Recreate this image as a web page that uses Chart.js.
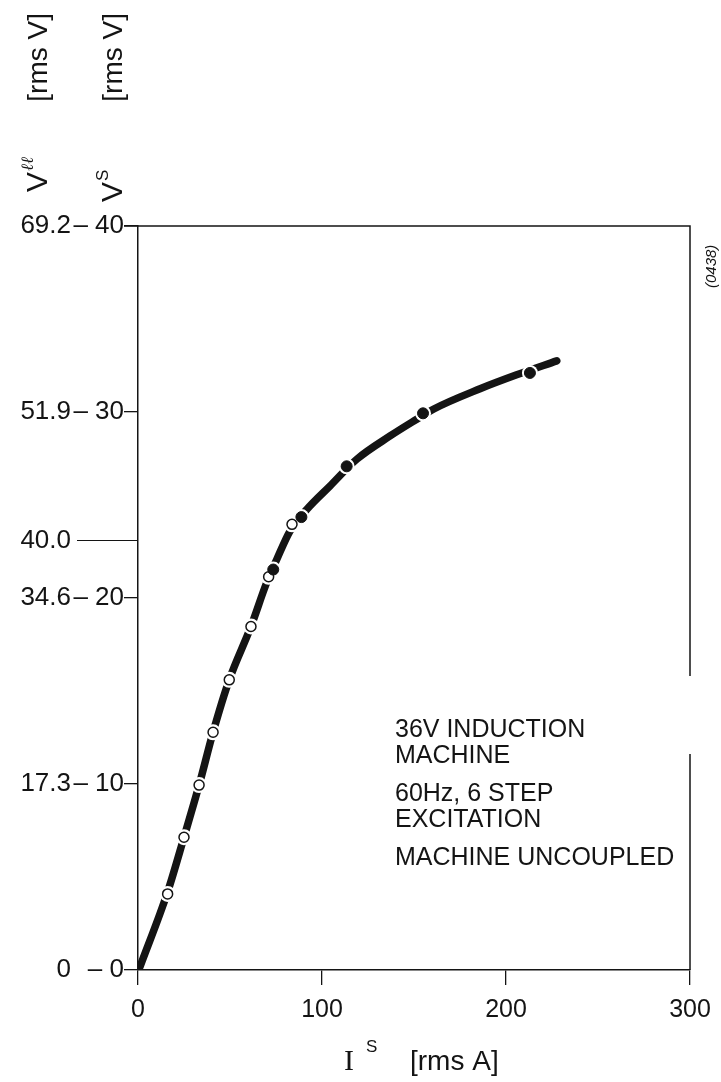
<!DOCTYPE html>
<html>
<head>
<meta charset="utf-8">
<script src="https://cdn.jsdelivr.net/npm/chart.js@4.4.0/dist/chart.umd.min.js"></script>
<style>
  html, body { margin: 0; padding: 0; background: #fff; }
  #wrap { width: 721px; height: 1082px; }
</style>
</head>
<body>
<div id="wrap"><canvas id="chart" width="721" height="1082"></canvas></div>
<script>
// traced curve: stator current I^S [rms A] vs phase voltage V^S [rms V]
const traceI = [1.1, 16.1, 25.0, 33.2, 40.8, 49.6, 61.4, 69.9, 75.4, 82.6, 91.7, 104.3, 118.9, 137.0, 151.5, 160.5, 185.9, 205.8, 227.6];
const traceV = [0.18, 4.2, 7.14, 9.94, 12.78, 15.6, 18.47, 20.82, 22.07, 23.6, 24.76, 26.02, 27.46, 28.71, 29.61, 30.15, 31.25, 32.0, 32.75];

// measured points, open circles
const openI = [16.1, 25.0, 33.2, 40.8, 49.6, 61.4, 71.0, 83.7];
const openV = [4.09, 7.14, 9.94, 12.78, 15.6, 18.47, 21.14, 23.96];

// measured points, filled circles
const fullI = [73.5, 88.8, 113.4, 154.9, 213.0];
const fullV = [21.53, 24.35, 27.08, 29.93, 32.1];

// axes
const xTicks = [0, 100, 200, 300];
const vsTicks = [0, 10, 20, 30, 40];
const vsLabels = ['\u2013 0', '\u2013 10', '\u2013 20', '\u2013 30', '\u2013 40'];
const vllMax = 69.282;   // 40 V phase = 69.28 V line-line
const vllTicks = [0, 17.32, 34.64, 40.0, 51.96, 69.282];
const vllLabels = ['0', '17.3', '34.6', '40.0', '51.9', '69.2'];

const noteLines = ['36V INDUCTION', 'MACHINE', '60Hz, 6 STEP', 'EXCITATION', 'MACHINE UNCOUPLED'];

const FONT = '"Liberation Sans", Arial, sans-serif';
const INK = '#141414';

function pts(xs, ys) {
    return xs.map((x, i) => ({ x: x, y: ys[i] }));
}

// frame, extra tick, axis titles and note
const decorPlugin = {
    id: 'decor',
    afterDraw(chart) {
        const ctx = chart.ctx;
        const a = chart.chartArea;
        const yll = chart.scales.yll;
        ctx.save();
        ctx.strokeStyle = INK;
        ctx.lineWidth = 1.5;

        // top and right frame (right side broken beside the note)
        ctx.beginPath();
        ctx.moveTo(a.left - 14, a.top);
        ctx.lineTo(a.right, a.top);
        ctx.lineTo(a.right, a.top + 450);
        ctx.moveTo(a.right, a.top + 528);
        ctx.lineTo(a.right, a.bottom);
        ctx.stroke();

        // long tick for the 40.0 V line-line mark
        const p40 = Math.round(yll.getPixelForValue(40.0)) + 0.5;
        ctx.lineWidth = 1.2;
        ctx.beginPath();
        ctx.moveTo(yll.right + 5, p40);
        ctx.lineTo(a.left, p40);
        ctx.stroke();

        ctx.fillStyle = INK;

        // vertical axis titles (rotated)
        function vTitle(xBase, yBottom, sup, supFont) {
            ctx.save();
            ctx.translate(xBase, yBottom);
            ctx.rotate(-Math.PI / 2);
            ctx.textBaseline = 'alphabetic';
            ctx.textAlign = 'left';
            ctx.font = '30px ' + FONT;
            ctx.fillText('V', 0, 0);
            const w = ctx.measureText('V').width;
            ctx.font = supFont;
            ctx.fillText(sup, w + 1, -14);
            ctx.font = '28px ' + FONT;
            ctx.textAlign = 'right';
            ctx.fillText('[rms V]', yBottom - 13, 0);
            ctx.restore();
        }
        vTitle(47, 192, '\u2113\u2113', 'italic 17px "DejaVu Serif", serif');
        vTitle(122, 202, 'S', '17px ' + FONT);

        // x axis title
        ctx.textBaseline = 'alphabetic';
        ctx.textAlign = 'left';
        ctx.font = '30px "Liberation Serif", "Times New Roman", serif';
        ctx.fillText('I', 344, 1070);
        ctx.font = '17px ' + FONT;
        ctx.fillText('S', 366, 1052);
        ctx.font = '28px ' + FONT;
        ctx.fillText('[rms A]', 410, 1070);

        // figure number
        ctx.save();
        ctx.translate(716, 288);
        ctx.rotate(-Math.PI / 2);
        ctx.font = 'italic 15px ' + FONT;
        ctx.fillText('(0438)', 0, 0);
        ctx.restore();

        // note
        ctx.font = '25px ' + FONT;
        const baselines = [737, 763, 801, 827, 865];
        noteLines.forEach((t, i) => ctx.fillText(t, 395, baselines[i]));

        ctx.restore();
    }
};

const ctx = document.getElementById('chart').getContext('2d');
new Chart(ctx, {
    type: 'scatter',
    data: {
        datasets: [
            {
                label: 'filled',
                data: pts(fullI, fullV),
                pointRadius: 5.5,
                pointBackgroundColor: INK,
                pointBorderColor: INK,
                pointBorderWidth: 1,
                order: 0
            },
            {
                label: 'open',
                data: pts(openI, openV),
                pointRadius: 5,
                pointBackgroundColor: '#fff',
                pointBorderColor: INK,
                pointBorderWidth: 1.5,
                order: 0
            },
            {
                label: 'gap',
                data: pts(openI.concat(fullI), openV.concat(fullV)),
                pointRadius: 8,
                pointBackgroundColor: '#fff',
                pointBorderWidth: 0,
                order: 1
            },
            {
                label: 'trace',
                data: pts(traceI, traceV),
                showLine: true,
                borderColor: INK,
                borderWidth: 7.5,
                borderCapStyle: 'round',
                borderJoinStyle: 'round',
                cubicInterpolationMode: 'monotone',
                pointRadius: 0,
                order: 2
            }
        ]
    },
    options: {
        responsive: false,
        animation: false,
        events: [],
        layout: { padding: { top: 226, right: 31, bottom: 52, left: 0 } },
        plugins: {
            legend: { display: false },
            tooltip: { enabled: false }
        },
        scales: {
            x: {
                type: 'linear',
                min: 0,
                max: 300,
                afterBuildTicks: s => { s.ticks = xTicks.map(v => ({ value: v })); },
                afterFit: s => { s.height = 60; },
                ticks: { font: { family: FONT, size: 25 }, color: INK, padding: 10, maxRotation: 0 },
                grid: { drawOnChartArea: false, tickLength: 15, color: INK, lineWidth: 1.3 },
                border: { color: INK, width: 1.5 }
            },
            y: {
                type: 'linear',
                position: 'left',
                weight: 0,
                min: 0,
                max: 40,
                afterBuildTicks: s => { s.ticks = vsTicks.map(v => ({ value: v })); },
                afterFit: s => { s.width = 66; },
                ticks: {
                    autoSkip: false,
                    padding: 0,
                    color: INK,
                    font: { family: FONT, size: 26 },
                    callback: v => vsLabels[vsTicks.indexOf(v)]
                },
                grid: { drawOnChartArea: false, tickLength: 14, color: INK, lineWidth: 1.3 },
                border: { color: INK, width: 1.5 }
            },
            yll: {
                type: 'linear',
                position: 'left',
                weight: 1,
                min: 0,
                max: vllMax,
                afterBuildTicks: s => { s.ticks = vllTicks.map(v => ({ value: v })); },
                afterFit: s => { s.width = 72; },
                ticks: {
                    autoSkip: false,
                    padding: 1,
                    color: INK,
                    font: { family: FONT, size: 26 },
                    callback: v => vllLabels[vllTicks.indexOf(v)]
                },
                grid: { drawOnChartArea: false, drawTicks: false },
                border: { display: false }
            }
        }
    },
    plugins: [decorPlugin]
});
</script>
</body>
</html>
